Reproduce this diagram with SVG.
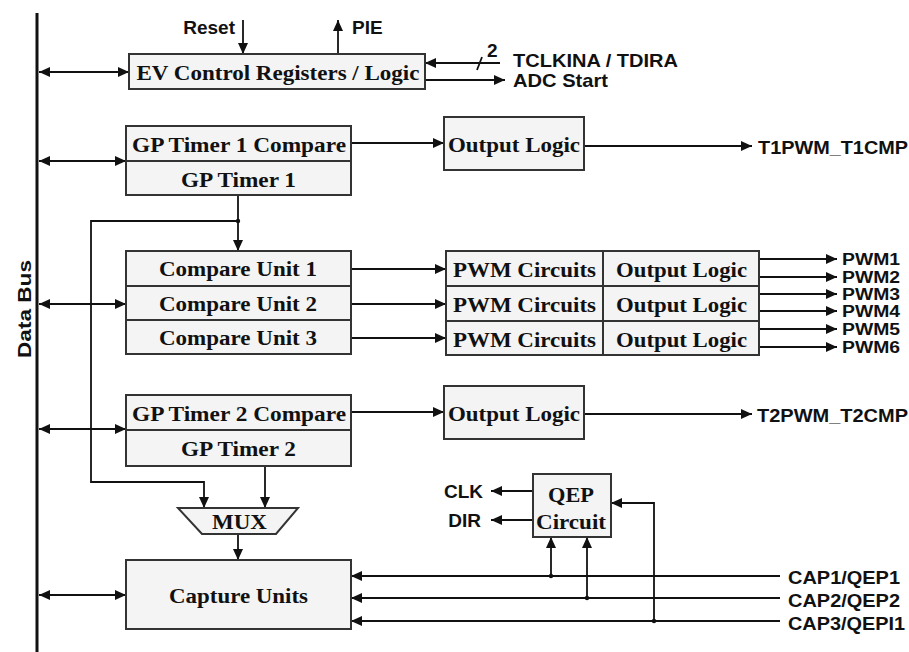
<svg xmlns="http://www.w3.org/2000/svg" width="909" height="652" viewBox="0 0 909 652">
<style>
.box{fill:#f4f4f4;stroke:#333;stroke-width:2}
.sep{stroke:#333;stroke-width:2;fill:none}
.st{font-family:"Liberation Serif","Times New Roman",serif;font-weight:bold;font-size:20px;fill:#111;text-anchor:middle}
.ss{font-family:"Liberation Sans",Arial,sans-serif;font-weight:bold;font-size:19px;fill:#111}
.pw{font-family:"Liberation Sans",Arial,sans-serif;font-weight:bold;font-size:16px;fill:#111}
.w{stroke:#111;stroke-width:1.8;fill:none}
.a{marker-end:url(#ah)}
.b{marker-start:url(#ah);marker-end:url(#ah)}
.dot{fill:#111}
</style>
<defs>
<marker id="ah" markerUnits="userSpaceOnUse" markerWidth="11" markerHeight="10" refX="11" refY="5" orient="auto-start-reverse">
<path d="M0,0 L11,5 L0,10 z" fill="#111"/>
</marker>
</defs>
<g id="connectors">
<line x1="37" y1="13" x2="37" y2="652" stroke="#111" stroke-width="3"/>
<line class="w b" x1="39" y1="72" x2="129" y2="72"/>
<line class="w b" x1="39" y1="161" x2="126" y2="161"/>
<line class="w b" x1="39" y1="304" x2="126" y2="304"/>
<line class="w b" x1="39" y1="429" x2="126" y2="429"/>
<line class="w b" x1="39" y1="595" x2="126" y2="595"/>
<line class="w a" x1="243" y1="20" x2="243" y2="54"/>
<line class="w a" x1="338" y1="54" x2="338" y2="20"/>
<line class="w a" x1="500" y1="63" x2="425" y2="63"/>
<line class="w" x1="477" y1="70" x2="482" y2="57"/>
<line class="w a" x1="425" y1="80" x2="505" y2="80"/>
<line class="w a" x1="351" y1="143" x2="444" y2="143"/>
<line class="w a" x1="584" y1="146" x2="752" y2="146"/>
<line class="w a" x1="238" y1="195" x2="238" y2="251"/>
<circle class="dot" cx="238" cy="221" r="2.2"/>
<polyline class="w a" points="238,221 91,221 91,482 204,482 204,508"/>
<line class="w a" x1="351" y1="269" x2="446" y2="269"/>
<line class="w a" x1="351" y1="304" x2="446" y2="304"/>
<line class="w a" x1="351" y1="338" x2="446" y2="338"/>
<line class="w a" x1="759" y1="259" x2="837" y2="259"/>
<line class="w a" x1="759" y1="277" x2="837" y2="277"/>
<line class="w a" x1="759" y1="294" x2="837" y2="294"/>
<line class="w a" x1="759" y1="311" x2="837" y2="311"/>
<line class="w a" x1="759" y1="329" x2="837" y2="329"/>
<line class="w a" x1="759" y1="347" x2="837" y2="347"/>
<line class="w a" x1="351" y1="412" x2="444" y2="412"/>
<line class="w a" x1="584" y1="414" x2="752" y2="414"/>
<line class="w a" x1="265" y1="466" x2="265" y2="508"/>
<line class="w a" x1="238" y1="534" x2="238" y2="560"/>
<line class="w a" x1="780" y1="576" x2="351" y2="576"/>
<line class="w a" x1="780" y1="598" x2="351" y2="598"/>
<line class="w a" x1="780" y1="621" x2="351" y2="621"/>
<line class="w a" x1="551" y1="576" x2="551" y2="537"/>
<line class="w a" x1="587" y1="598" x2="587" y2="537"/>
<polyline class="w a" points="654,621 654,503 611,503"/>
<circle class="dot" cx="551" cy="576" r="2.2"/>
<circle class="dot" cx="587" cy="598" r="2.2"/>
<circle class="dot" cx="654" cy="621" r="2.2"/>
<line class="w a" x1="533" y1="491" x2="491" y2="491"/>
<line class="w a" x1="533" y1="520" x2="491" y2="520"/>
</g>
<g id="data-bus-label">
<text class="ss" font-size="22" text-anchor="middle" transform="translate(31,309) rotate(-90)" textLength="98" lengthAdjust="spacingAndGlyphs">Data Bus</text>
</g>
<g id="ev-control">
<rect class="box" x="129" y="54" width="296" height="35"/>
<text class="st" x="278" y="80" textLength="283" lengthAdjust="spacingAndGlyphs">EV Control Registers / Logic</text>
</g>
<g id="ev-signals">
<text class="ss" x="235" y="34" text-anchor="end">Reset</text>
<text class="ss" x="352" y="34">PIE</text>
<text class="ss" x="487" y="57">2</text>
<text class="ss" x="513" y="67" textLength="165" lengthAdjust="spacingAndGlyphs">TCLKINA / TDIRA</text>
<text class="ss" x="513" y="87" textLength="95" lengthAdjust="spacingAndGlyphs">ADC Start</text>
</g>
<g id="gp-timer1">
<rect class="box" x="126" y="126" width="225" height="69"/>
<line class="sep" x1="126" y1="161" x2="351" y2="161"/>
<text class="st" x="239" y="152" textLength="214" lengthAdjust="spacingAndGlyphs">GP Timer 1 Compare</text>
<text class="st" x="238.5" y="187" textLength="115" lengthAdjust="spacingAndGlyphs">GP Timer 1</text>
</g>
<g id="output-logic-1">
<rect class="box" x="444" y="117" width="140" height="53"/>
<text class="st" x="514" y="152" textLength="132" lengthAdjust="spacingAndGlyphs">Output Logic</text>
<text class="ss" x="758" y="154" textLength="150" lengthAdjust="spacingAndGlyphs">T1PWM_T1CMP</text>
</g>
<g id="compare-units">
<rect class="box" x="126" y="251" width="225" height="103"/>
<line class="sep" x1="126" y1="286" x2="351" y2="286"/>
<line class="sep" x1="126" y1="320" x2="351" y2="320"/>
<text class="st" x="238" y="276" textLength="158" lengthAdjust="spacingAndGlyphs">Compare Unit 1</text>
<text class="st" x="238" y="311" textLength="158" lengthAdjust="spacingAndGlyphs">Compare Unit 2</text>
<text class="st" x="238" y="345" textLength="158" lengthAdjust="spacingAndGlyphs">Compare Unit 3</text>
</g>
<g id="pwm-block">
<rect class="box" x="446" y="251" width="313" height="104"/>
<line class="sep" x1="603" y1="251" x2="603" y2="355"/>
<line class="sep" x1="446" y1="286" x2="759" y2="286"/>
<line class="sep" x1="446" y1="321" x2="759" y2="321"/>
<text class="st" x="524.5" y="277" textLength="143" lengthAdjust="spacingAndGlyphs">PWM Circuits</text>
<text class="st" x="524.5" y="312" textLength="143" lengthAdjust="spacingAndGlyphs">PWM Circuits</text>
<text class="st" x="524.5" y="347" textLength="143" lengthAdjust="spacingAndGlyphs">PWM Circuits</text>
<text class="st" x="681.5" y="277" textLength="131" lengthAdjust="spacingAndGlyphs">Output Logic</text>
<text class="st" x="681.5" y="312" textLength="131" lengthAdjust="spacingAndGlyphs">Output Logic</text>
<text class="st" x="681.5" y="347" textLength="131" lengthAdjust="spacingAndGlyphs">Output Logic</text>
</g>
<g id="pwm-outputs">
<text class="pw" x="842" y="265" textLength="58" lengthAdjust="spacingAndGlyphs">PWM1</text>
<text class="pw" x="842" y="283" textLength="58" lengthAdjust="spacingAndGlyphs">PWM2</text>
<text class="pw" x="842" y="300" textLength="58" lengthAdjust="spacingAndGlyphs">PWM3</text>
<text class="pw" x="842" y="317" textLength="58" lengthAdjust="spacingAndGlyphs">PWM4</text>
<text class="pw" x="842" y="335" textLength="58" lengthAdjust="spacingAndGlyphs">PWM5</text>
<text class="pw" x="842" y="353" textLength="58" lengthAdjust="spacingAndGlyphs">PWM6</text>
</g>
<g id="gp-timer2">
<rect class="box" x="126" y="395" width="225" height="71"/>
<line class="sep" x1="126" y1="430" x2="351" y2="430"/>
<text class="st" x="239" y="421" textLength="214" lengthAdjust="spacingAndGlyphs">GP Timer 2 Compare</text>
<text class="st" x="238.5" y="456" textLength="115" lengthAdjust="spacingAndGlyphs">GP Timer 2</text>
</g>
<g id="output-logic-2">
<rect class="box" x="444" y="386" width="140" height="53"/>
<text class="st" x="514" y="421" textLength="132" lengthAdjust="spacingAndGlyphs">Output Logic</text>
<text class="ss" x="757" y="422" textLength="151" lengthAdjust="spacingAndGlyphs">T2PWM_T2CMP</text>
</g>
<g id="mux">
<polygon class="box" points="178,508 298,508 276,534 202,534"/>
<text class="st" x="239.5" y="529" textLength="55" lengthAdjust="spacingAndGlyphs">MUX</text>
</g>
<g id="capture-units">
<rect class="box" x="126" y="560" width="225" height="69"/>
<text class="st" x="238.5" y="603" textLength="139" lengthAdjust="spacingAndGlyphs">Capture Units</text>
</g>
<g id="qep-circuit">
<rect class="box" x="533" y="474" width="78" height="63"/>
<text class="st" x="571" y="502" textLength="46" lengthAdjust="spacingAndGlyphs">QEP</text>
<text class="st" x="571" y="529" textLength="70" lengthAdjust="spacingAndGlyphs">Circuit</text>
<text class="ss" x="483" y="498" text-anchor="end">CLK</text>
<text class="ss" x="481" y="527" text-anchor="end">DIR</text>
</g>
<g id="cap-inputs">
<text class="ss" x="788" y="584" textLength="112" lengthAdjust="spacingAndGlyphs">CAP1/QEP1</text>
<text class="ss" x="788" y="607" textLength="112" lengthAdjust="spacingAndGlyphs">CAP2/QEP2</text>
<text class="ss" x="788" y="630" textLength="117" lengthAdjust="spacingAndGlyphs">CAP3/QEPI1</text>
</g>
</svg>
